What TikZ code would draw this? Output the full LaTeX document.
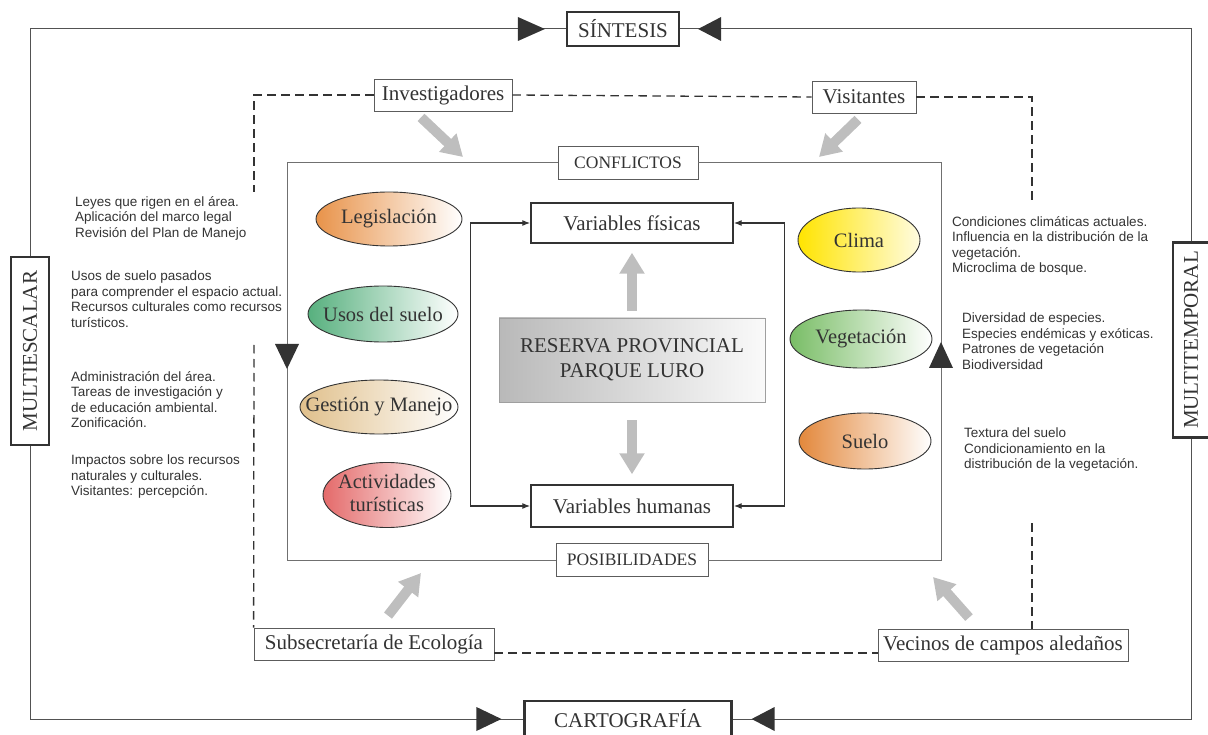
\documentclass[tikz,border=0pt]{standalone}
\usepackage{fontspec}
\setmainfont{Liberation Serif}
\newfontfamily\notefont{Liberation Sans}
\usetikzlibrary{shapes.geometric,arrows.meta}

\definecolor{ink}{HTML}{333333}
\definecolor{arrgrey}{HTML}{BEBEBE}
\definecolor{legis}{HTML}{E8934A}
\definecolor{usos}{HTML}{57B07E}
\definecolor{gest}{HTML}{E0C08C}
\definecolor{activ}{HTML}{E46A6A}
\definecolor{clima}{HTML}{FFE400}
\definecolor{veg}{HTML}{79BD66}
\definecolor{suelo}{HTML}{E3883C}

% text of an ellipse does not widen the shape
\newcommand{\ellbox}[1]{\makebox[0pt]{#1}}

\begin{document}
\begin{tikzpicture}[x=1pt,y=-1pt,
  box/.style={draw=ink!80,line width=0.8pt,fill=white,text=ink,
    font=\fontsize{21}{25}\selectfont,inner sep=2pt,minimum height=32pt},
  thickbox/.style={box,draw=ink,line width=2.2pt},
  varbox/.style={box,draw=ink,line width=1.4pt,minimum width=202pt},
  smallbox/.style={box,font=\fontsize{17.5}{20}\selectfont,minimum height=33pt},
  ell/.style={ellipse,draw=ink,line width=0.9pt,inner sep=0pt,right color=white,
    text=ink,font=\fontsize{20.5}{23}\selectfont},
  note/.style={anchor=north west,inner sep=0pt,align=left,text=ink,
    font=\notefont\fontsize{13.5}{15.5}\selectfont},
  frame/.style={draw=ink!85,line width=1pt},
  inframe/.style={draw=ink!70,line width=1pt},
  dashline/.style={draw=ink,line width=1.3pt,dash pattern=on 8.5pt off 5.5pt},
  garr/.style={draw=arrgrey,line width=10pt,-{Triangle[length=21pt,width=24pt]}},
  brk/.style={draw=ink,line width=1.2pt,
    {Latex[length=8pt,width=6pt]}-{Latex[length=8pt,width=6pt]}},
  tri/.style={fill=ink}
]
\useasboundingbox (0,0) rectangle (1208,735);

% outer frame
\node[thickbox,minimum width=112pt,minimum height=34pt] (sin) at (623,29) {SÍNTESIS};
\node[thickbox,minimum width=207pt,minimum height=36pt] (cart) at (628,719) {CARTOGRAFÍA};
\node[thickbox,rotate=90,minimum width=188pt,minimum height=38pt] (mes) at (30,351) {MULTIESCALAR};
\node[thickbox,rotate=90,minimum width=195pt,minimum height=36pt] (mtp) at (1191,340) {MULTITEMPORAL};
\draw[frame] (sin.west) -| (mes.east);
\draw[frame] (mes.west) |- (cart.west);
\draw[frame] (cart.east) -| (mtp.west);
\draw[frame] (mtp.east) |- (sin.east);
\fill[tri] ([xshift=-21pt]sin.west) -- ++(-27,-12) -- ++(0,24) -- cycle;
\fill[tri] ([xshift=18pt]sin.east) -- ++(23,-12) -- ++(0,24) -- cycle;
\fill[tri] ([xshift=-22pt]cart.west) -- ++(-25,-12) -- ++(0,24) -- cycle;
\fill[tri] ([xshift=19pt]cart.east) -- ++(23,-12) -- ++(0,24) -- cycle;

% actors
\node[box,minimum width=138pt] (inv) at (443,95) {Investigadores};
\node[box,minimum width=104pt] (vis) at (864,97) {Visitantes};
\node[box,minimum width=240pt] (sub) at (374,644) {Subsecretaría de Ecología};
\node[box,minimum width=250pt,inner xsep=1pt] (vec) at (1003,645) {Vecinos de campos aledaños};
\coordinate (dltop) at (254,192);
\coordinate (dlbot) at (254,345);
\coordinate (drtop) at (1032,203);
\coordinate (drbot) at (1032,523);
\draw[dashline] (inv.east) -- (vis.west);
\draw[dashline] (inv.west) -| (dltop);
\draw[dashline] (dlbot) -- (sub.north west);
\draw[dashline] (vis.east) -| (drtop);
\draw[dashline] (drbot) -- (drbot |- vec.north);
\draw[dashline] ([yshift=-9pt]sub.east) -- ([yshift=-9pt]sub.east -| vec.west);

% inner frame
\node[smallbox,minimum width=140pt] (conf) at (628,163) {CONFLICTOS};
\node[smallbox,minimum width=152pt] (pos) at (632,560) {POSIBILIDADES};
\coordinate (fl) at (287,0);
\coordinate (fr) at (941,0);
\draw[inframe] (conf.west) -| (fl |- pos.west) -- (pos.west);
\draw[inframe] (conf.east) -| (fr |- pos.east) -- (pos.east);
\fill[tri] (275,344) -- (299,344) -- (287,369) -- cycle;
\fill[tri] (929,368) -- (953,368) -- (941,342) -- cycle;

% grey pointers
\coordinate (ginv) at (463,157);
\coordinate (gvis) at (819,157);
\coordinate (gsub) at (421,573);
\coordinate (gvec) at (933,577);
\draw[garr] (inv.south) ++(-22,6) -- (ginv);
\draw[garr] (vis.south) ++(-6,6) -- (gvis);
\draw[garr] (sub.north) ++(14,-12) -- (gsub);
\draw[garr] (vec.north) ++(-34,-11) -- (gvec);

% centre
\node[varbox,minimum height=40pt] (vfis) at (632,223) {Variables físicas};
\node[varbox,minimum height=42pt] (vhum) at (632,506) {Variables humanas};
\node[box,draw=gray!75,left color=gray!55,right color=gray!4,align=center,
  minimum width=266pt,minimum height=84pt] (res) at (632,360) {RESERVA PROVINCIAL\\PARQUE LURO};
\draw[garr,shorten <=7pt,shorten >=9pt] (res.north) -- (vfis.south);
\draw[garr,shorten <=18pt,shorten >=10pt] (res.south) -- (vhum.north);
\draw[brk] (vhum.west) -- ++(-60,0) |- (vfis.west);
\draw[brk] (vhum.east) -- ++(51,0) |- (vfis.east);

% human side
\node[ell,left color=legis,minimum width=146pt,minimum height=54pt] (leg) at (389,219) {\ellbox{Legislación}};
\node[ell,left color=usos,minimum width=150pt,minimum height=56pt] (uso) at (383,314) {\ellbox{Usos del suelo}};
\node[ell,left color=gest,minimum width=158pt,minimum height=54pt] (ges) at (379,407) {\ellbox{Gestión y Manejo}};
\node[ell,left color=activ,minimum width=128pt,minimum height=64pt] (act) at (387,495)
  {\ellbox{\begin{tabular}{@{}c@{}}Actividades\\turísticas\end{tabular}}};

% physical side
\node[ell,left color=clima,right color=clima!12,minimum width=122pt,minimum height=64pt] (cli) at (859,240) {\ellbox{Clima}};
\node[ell,left color=veg,minimum width=142pt,minimum height=58pt] (veg) at (861,339) {\ellbox{Vegetación}};
\node[ell,left color=suelo,minimum width=132pt,minimum height=56pt] (sue) at (865,441) {\ellbox{Suelo}};

% notes
\node[note] (nleg) at (75,196) {Leyes que rigen en el área.\\Aplicación del marco legal\\Revisión del Plan de Manejo};
\node[note] (nuso) at (71,271) {Usos de suelo pasados\\para comprender el espacio actual.\\Recursos culturales como recursos\\turísticos.};
\node[note] (nges) at (71,371) {Administración del área.\\Tareas de investigación y\\de educación ambiental.\\Zonificación.};
\node[note] (nact) at (71,455) {Impactos sobre los recursos\\naturales y culturales.\\Visitantes: percepción.};
\node[note] (ncli) at (952,216) {Condiciones climáticas actuales.\\Influencia en la distribución de la\\vegetación.\\Microclima de bosque.};
\node[note] (nveg) at (962,313) {Diversidad de especies.\\Especies endémicas y exóticas.\\Patrones de vegetación\\Biodiversidad};
\node[note] (nsue) at (964,428) {Textura del suelo\\Condicionamiento en la\\distribución de la vegetación.};
\end{tikzpicture}
\end{document}
